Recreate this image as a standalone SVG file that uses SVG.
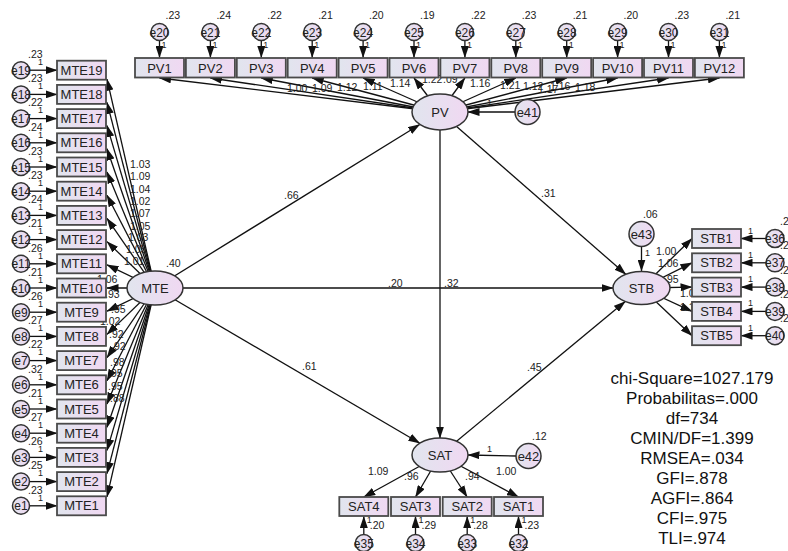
<svg xmlns="http://www.w3.org/2000/svg" width="788" height="551" viewBox="0 0 788 551">
  <defs>
    <linearGradient id="g" x1="0" y1="0" x2="1" y2="0">
      <stop offset="0" stop-color="#e1e5ee"/>
      <stop offset="1" stop-color="#f0d8f2"/>
    </linearGradient>
    <marker id="ah" markerWidth="12" markerHeight="8" refX="11.5" refY="4" orient="auto" markerUnits="userSpaceOnUse">
      <path d="M0,0 L12,4 L0,8 z" fill="#111"/>
    </marker>
    <style>
      .box { fill:url(#g); stroke:#4a4a4a; stroke-width:1.8; }
      .lat { fill:url(#g); stroke:#333; stroke-width:1.5; }
      .err { fill:url(#g); stroke:#333; stroke-width:1.5; }
      text { font-family:"Liberation Sans", Arial, sans-serif; fill:#222; }
      .lbl { font-size:13px; text-anchor:middle; }
      .elbl { font-size:12px; text-anchor:middle; }
      .num { font-size:10.5px; }
      .one { font-size:9px; }
      .stat { font-size:17px; text-anchor:middle; fill:#111; }
      .p { stroke:#111; stroke-width:1.3; fill:none; marker-end:url(#ah); }
    </style>
  </defs>
  <rect width="788" height="551" fill="#fff"/>

  <!-- paths -->
  <g id="connectors">
    <!-- MTE indicators -->
    <line class="p" x1="155" y1="288" x2="107" y2="79.2"/>
    <line class="p" x1="155" y1="288" x2="107" y2="102.4"/>
    <line class="p" x1="155" y1="288" x2="107" y2="125.6"/>
    <line class="p" x1="155" y1="288" x2="107" y2="148.8"/>
    <line class="p" x1="155" y1="288" x2="107" y2="172"/>
    <line class="p" x1="155" y1="288" x2="107" y2="195.2"/>
    <line class="p" x1="155" y1="288" x2="107" y2="218.4"/>
    <line class="p" x1="155" y1="288" x2="107" y2="241.6"/>
    <line class="p" x1="155" y1="288" x2="107" y2="264.8"/>
    <line class="p" x1="155" y1="288" x2="107" y2="288"/>
    <line class="p" x1="155" y1="288" x2="107" y2="311.2"/>
    <line class="p" x1="155" y1="288" x2="107" y2="334.4"/>
    <line class="p" x1="155" y1="288" x2="107" y2="357.6"/>
    <line class="p" x1="155" y1="288" x2="107" y2="380.8"/>
    <line class="p" x1="155" y1="288" x2="107" y2="404"/>
    <line class="p" x1="155" y1="288" x2="107" y2="427.2"/>
    <line class="p" x1="155" y1="288" x2="107" y2="450.4"/>
    <line class="p" x1="155" y1="288" x2="107" y2="473.6"/>
    <line class="p" x1="155" y1="288" x2="107" y2="496.8"/>
    <!-- MTE errors -->
    <line class="p" x1="29.5" y1="70.2" x2="57" y2="70.2"/>
    <line class="p" x1="29.5" y1="94.4" x2="57" y2="94.4"/>
    <line class="p" x1="29.5" y1="118.6" x2="57" y2="118.6"/>
    <line class="p" x1="29.5" y1="142.8" x2="57" y2="142.8"/>
    <line class="p" x1="29.5" y1="167" x2="57" y2="167"/>
    <line class="p" x1="29.5" y1="191.2" x2="57" y2="191.2"/>
    <line class="p" x1="29.5" y1="215.4" x2="57" y2="215.4"/>
    <line class="p" x1="29.5" y1="239.6" x2="57" y2="239.6"/>
    <line class="p" x1="29.5" y1="263.8" x2="57" y2="263.8"/>
    <line class="p" x1="29.5" y1="288" x2="57" y2="288"/>
    <line class="p" x1="29.5" y1="312.2" x2="57" y2="312.2"/>
    <line class="p" x1="29.5" y1="336.4" x2="57" y2="336.4"/>
    <line class="p" x1="29.5" y1="360.6" x2="57" y2="360.6"/>
    <line class="p" x1="29.5" y1="384.8" x2="57" y2="384.8"/>
    <line class="p" x1="29.5" y1="409" x2="57" y2="409"/>
    <line class="p" x1="29.5" y1="433.2" x2="57" y2="433.2"/>
    <line class="p" x1="29.5" y1="457.4" x2="57" y2="457.4"/>
    <line class="p" x1="29.5" y1="481.6" x2="57" y2="481.6"/>
    <line class="p" x1="29.5" y1="505.8" x2="57" y2="505.8"/>
    <!-- PV indicators -->
    <line class="p" x1="440" y1="112" x2="159.5" y2="78"/>
    <line class="p" x1="440" y1="112" x2="210.4" y2="78"/>
    <line class="p" x1="440" y1="112" x2="261.3" y2="78"/>
    <line class="p" x1="440" y1="112" x2="312.2" y2="78"/>
    <line class="p" x1="440" y1="112" x2="363.1" y2="78"/>
    <line class="p" x1="440" y1="112" x2="414" y2="78"/>
    <line class="p" x1="440" y1="112" x2="464.9" y2="78"/>
    <line class="p" x1="440" y1="112" x2="515.8" y2="78"/>
    <line class="p" x1="440" y1="112" x2="566.7" y2="78"/>
    <line class="p" x1="440" y1="112" x2="617.6" y2="78"/>
    <line class="p" x1="440" y1="112" x2="668.5" y2="78"/>
    <line class="p" x1="440" y1="112" x2="719.4" y2="78"/>
    <!-- PV errors -->
    <line class="p" x1="159.5" y1="40.5" x2="159.5" y2="57.5"/>
    <line class="p" x1="210.4" y1="40.5" x2="210.4" y2="57.5"/>
    <line class="p" x1="261.3" y1="40.5" x2="261.3" y2="57.5"/>
    <line class="p" x1="312.2" y1="40.5" x2="312.2" y2="57.5"/>
    <line class="p" x1="363.1" y1="40.5" x2="363.1" y2="57.5"/>
    <line class="p" x1="414" y1="40.5" x2="414" y2="57.5"/>
    <line class="p" x1="464.9" y1="40.5" x2="464.9" y2="57.5"/>
    <line class="p" x1="515.8" y1="40.5" x2="515.8" y2="57.5"/>
    <line class="p" x1="566.7" y1="40.5" x2="566.7" y2="57.5"/>
    <line class="p" x1="617.6" y1="40.5" x2="617.6" y2="57.5"/>
    <line class="p" x1="668.5" y1="40.5" x2="668.5" y2="57.5"/>
    <line class="p" x1="719.4" y1="40.5" x2="719.4" y2="57.5"/>
    <line class="p" x1="515" y1="112" x2="468" y2="112"/>
    <!-- structural paths -->
    <line class="p" x1="155" y1="288" x2="419.8" y2="124.5"/>
    <line class="p" x1="155" y1="288" x2="613" y2="288"/>
    <line class="p" x1="155" y1="288" x2="419.9" y2="443.2"/>
    <line class="p" x1="440" y1="112" x2="625.8" y2="274.3"/>
    <line class="p" x1="440" y1="112" x2="440" y2="438"/>
    <line class="p" x1="440" y1="455" x2="625.2" y2="301.5"/>
    <!-- STB -->
    <line class="p" x1="641.5" y1="246.5" x2="641.5" y2="271"/>
    <line class="p" x1="641.5" y1="288" x2="692" y2="238.5"/>
    <line class="p" x1="641.5" y1="288" x2="692" y2="262.8"/>
    <line class="p" x1="641.5" y1="288" x2="692" y2="287.1"/>
    <line class="p" x1="641.5" y1="288" x2="692" y2="311.4"/>
    <line class="p" x1="641.5" y1="288" x2="692" y2="335.7"/>
    <line class="p" x1="766" y1="238.5" x2="741" y2="238.5"/>
    <line class="p" x1="766" y1="262.8" x2="741" y2="262.8"/>
    <line class="p" x1="766" y1="287.1" x2="741" y2="287.1"/>
    <line class="p" x1="766" y1="311.4" x2="741" y2="311.4"/>
    <line class="p" x1="766" y1="335.7" x2="741" y2="335.7"/>
    <!-- SAT -->
    <line class="p" x1="440" y1="455" x2="363.8" y2="497"/>
    <line class="p" x1="440" y1="455" x2="415.5" y2="497"/>
    <line class="p" x1="440" y1="455" x2="467.2" y2="497"/>
    <line class="p" x1="440" y1="455" x2="518.5" y2="497"/>
    <line class="p" x1="516" y1="456" x2="468" y2="455"/>
    <line class="p" x1="363.8" y1="534.5" x2="363.8" y2="516.5"/>
    <line class="p" x1="415.5" y1="534.5" x2="415.5" y2="516.5"/>
    <line class="p" x1="467.2" y1="534.5" x2="467.2" y2="516.5"/>
    <line class="p" x1="518.5" y1="534.5" x2="518.5" y2="516.5"/>
  </g>

  <!-- path estimates -->
  <g id="estimates" class="num">
    <text x="284" y="199">.66</text>
    <text x="541" y="197">.31</text>
    <text x="388" y="287">.20</text>
    <text x="444" y="287">.32</text>
    <text x="302" y="370">.61</text>
    <text x="527" y="371">.45</text>
    <!-- PV loadings -->
    <text x="287" y="91.5">1.00</text>
    <text x="312" y="91.5">1.09</text>
    <text x="337" y="91">1.12</text>
    <text x="363" y="90">1.11</text>
    <text x="390" y="87">1.14</text>
    <text x="422" y="83">1.22</text>
    <text x="443" y="83">.09</text>
    <text x="470" y="87">1.16</text>
    <text x="500" y="89">1.21</text>
    <text x="523" y="90">1.12</text>
    <text x="538" y="93">1.17</text>
    <text x="550" y="90">1.16</text>
    <text x="575" y="91">1.18</text>
    <!-- MTE loadings -->
    <text x="130" y="167.5">1.03</text>
    <text x="130" y="179.5">1.09</text>
    <text x="130" y="192.5">1.04</text>
    <text x="130" y="204.5">1.02</text>
    <text x="130" y="216.5">1.07</text>
    <text x="130" y="229.5">1.05</text>
    <text x="128" y="241">1.03</text>
    <text x="126" y="253">1.05</text>
    <text x="124" y="265">1.01</text>
    <text x="97" y="283">1.06</text>
    <text x="105" y="298">.93</text>
    <text x="111" y="313">.95</text>
    <text x="100" y="325">1.02</text>
    <text x="109" y="338">.92</text>
    <text x="111" y="350">.92</text>
    <text x="110" y="366">.98</text>
    <text x="108" y="377">.95</text>
    <text x="108" y="390">.95</text>
    <text x="110" y="402">.88</text>
    <!-- STB loadings -->
    <text x="656" y="255">1.00</text>
    <text x="658" y="267">1.06</text>
    <text x="664" y="283">.95</text>
    <text x="680" y="297">1.07</text>
    <text x="680" y="311">1.15</text>
    <!-- SAT loadings -->
    <text x="368" y="475">1.09</text>
    <text x="404" y="480">.96</text>
    <text x="465" y="480">.94</text>
    <text x="496" y="475">1.00</text>
  </g>

  <!-- latent variables -->
  <g id="MTE">
    <ellipse class="lat" cx="155" cy="288" rx="28" ry="17"/>
    <text class="lbl" x="155" y="292.5">MTE</text>
    <text class="num" x="166" y="267">.40</text>
  </g>
  <g id="PV">
    <ellipse class="lat" cx="440" cy="112" rx="28" ry="18"/>
    <text class="lbl" x="440" y="116.5">PV</text>
  </g>
  <g id="STB">
    <ellipse class="lat" cx="641.5" cy="288" rx="28.5" ry="16.5"/>
    <text class="lbl" x="641.5" y="292.5">STB</text>
  </g>
  <g id="SAT">
    <ellipse class="lat" cx="440" cy="455" rx="28" ry="17"/>
    <text class="lbl" x="440" y="459.5">SAT</text>
  </g>

  <!-- disturbances -->
  <g id="e41">
    <circle class="err" cx="527.5" cy="112" r="12.5"/>
    <text class="lbl" x="527.5" y="116.5">e41</text>
    <text class="one" x="487" y="106">1</text>
  </g>
  <g id="e42">
    <circle class="err" cx="528.5" cy="456" r="12.5"/>
    <text class="lbl" x="528.5" y="460.5">e42</text>
    <text class="one" x="487" y="452">1</text>
    <text class="num" x="532" y="440">.12</text>
  </g>
  <g id="e43">
    <circle class="err" cx="641.5" cy="234" r="12.5"/>
    <text class="lbl" x="641.5" y="238.5">e43</text>
    <text class="one" x="645" y="256">1</text>
    <text class="num" x="643" y="218">.06</text>
  </g>

  <!-- PV indicators -->
  <g id="PV1"><rect class="box" x="135" y="58" width="49" height="19.5"/><text class="lbl" x="159.5" y="72.5">PV1</text></g>
  <g id="PV2"><rect class="box" x="185.9" y="58" width="49" height="19.5"/><text class="lbl" x="210.4" y="72.5">PV2</text></g>
  <g id="PV3"><rect class="box" x="236.8" y="58" width="49" height="19.5"/><text class="lbl" x="261.3" y="72.5">PV3</text></g>
  <g id="PV4"><rect class="box" x="287.7" y="58" width="49" height="19.5"/><text class="lbl" x="312.2" y="72.5">PV4</text></g>
  <g id="PV5"><rect class="box" x="338.6" y="58" width="49" height="19.5"/><text class="lbl" x="363.1" y="72.5">PV5</text></g>
  <g id="PV6"><rect class="box" x="389.5" y="58" width="49" height="19.5"/><text class="lbl" x="414" y="72.5">PV6</text></g>
  <g id="PV7"><rect class="box" x="440.4" y="58" width="49" height="19.5"/><text class="lbl" x="464.9" y="72.5">PV7</text></g>
  <g id="PV8"><rect class="box" x="491.3" y="58" width="49" height="19.5"/><text class="lbl" x="515.8" y="72.5">PV8</text></g>
  <g id="PV9"><rect class="box" x="542.2" y="58" width="49" height="19.5"/><text class="lbl" x="566.7" y="72.5">PV9</text></g>
  <g id="PV10"><rect class="box" x="593.1" y="58" width="49" height="19.5"/><text class="lbl" x="617.6" y="72.5">PV10</text></g>
  <g id="PV11"><rect class="box" x="644" y="58" width="49" height="19.5"/><text class="lbl" x="668.5" y="72.5">PV11</text></g>
  <g id="PV12"><rect class="box" x="694.9" y="58" width="49" height="19.5"/><text class="lbl" x="719.4" y="72.5">PV12</text></g>

  <!-- PV error terms -->
  <g id="e20"><circle class="err" cx="159.5" cy="32" r="8.5"/><text class="elbl" x="159.5" y="36.5">e20</text><text class="one" x="161.5" y="48">1</text><text class="num" x="165.5" y="19">.23</text></g>
  <g id="e21"><circle class="err" cx="210.4" cy="32" r="8.5"/><text class="elbl" x="210.4" y="36.5">e21</text><text class="one" x="212.4" y="48">1</text><text class="num" x="216.4" y="19">.24</text></g>
  <g id="e22"><circle class="err" cx="261.3" cy="32" r="8.5"/><text class="elbl" x="261.3" y="36.5">e22</text><text class="one" x="263.3" y="48">1</text><text class="num" x="267.3" y="19">.22</text></g>
  <g id="e23"><circle class="err" cx="312.2" cy="32" r="8.5"/><text class="elbl" x="312.2" y="36.5">e23</text><text class="one" x="314.2" y="48">1</text><text class="num" x="318.2" y="19">.21</text></g>
  <g id="e24"><circle class="err" cx="363.1" cy="32" r="8.5"/><text class="elbl" x="363.1" y="36.5">e24</text><text class="one" x="365.1" y="48">1</text><text class="num" x="369.1" y="19">.20</text></g>
  <g id="e25"><circle class="err" cx="414" cy="32" r="8.5"/><text class="elbl" x="414" y="36.5">e25</text><text class="one" x="416" y="48">1</text><text class="num" x="420" y="19">.19</text></g>
  <g id="e26"><circle class="err" cx="464.9" cy="32" r="8.5"/><text class="elbl" x="464.9" y="36.5">e26</text><text class="one" x="466.9" y="48">1</text><text class="num" x="470.9" y="19">.22</text></g>
  <g id="e27"><circle class="err" cx="515.8" cy="32" r="8.5"/><text class="elbl" x="515.8" y="36.5">e27</text><text class="one" x="517.8" y="48">1</text><text class="num" x="521.8" y="19">.23</text></g>
  <g id="e28"><circle class="err" cx="566.7" cy="32" r="8.5"/><text class="elbl" x="566.7" y="36.5">e28</text><text class="one" x="568.7" y="48">1</text><text class="num" x="572.7" y="19">.21</text></g>
  <g id="e29"><circle class="err" cx="617.6" cy="32" r="8.5"/><text class="elbl" x="617.6" y="36.5">e29</text><text class="one" x="619.6" y="48">1</text><text class="num" x="623.6" y="19">.20</text></g>
  <g id="e30"><circle class="err" cx="668.5" cy="32" r="8.5"/><text class="elbl" x="668.5" y="36.5">e30</text><text class="one" x="670.5" y="48">1</text><text class="num" x="674.5" y="19">.23</text></g>
  <g id="e31"><circle class="err" cx="719.4" cy="32" r="8.5"/><text class="elbl" x="719.4" y="36.5">e31</text><text class="one" x="721.4" y="48">1</text><text class="num" x="725.4" y="19">.21</text></g>

  <!-- MTE indicators -->
  <g id="MTE19"><rect class="box" x="57" y="60.7" width="49" height="19"/><text class="lbl" x="81.5" y="74.7">MTE19</text></g>
  <g id="MTE18"><rect class="box" x="57" y="84.9" width="49" height="19"/><text class="lbl" x="81.5" y="98.9">MTE18</text></g>
  <g id="MTE17"><rect class="box" x="57" y="109.1" width="49" height="19"/><text class="lbl" x="81.5" y="123.1">MTE17</text></g>
  <g id="MTE16"><rect class="box" x="57" y="133.3" width="49" height="19"/><text class="lbl" x="81.5" y="147.3">MTE16</text></g>
  <g id="MTE15"><rect class="box" x="57" y="157.5" width="49" height="19"/><text class="lbl" x="81.5" y="171.5">MTE15</text></g>
  <g id="MTE14"><rect class="box" x="57" y="181.7" width="49" height="19"/><text class="lbl" x="81.5" y="195.7">MTE14</text></g>
  <g id="MTE13"><rect class="box" x="57" y="205.9" width="49" height="19"/><text class="lbl" x="81.5" y="219.9">MTE13</text></g>
  <g id="MTE12"><rect class="box" x="57" y="230.1" width="49" height="19"/><text class="lbl" x="81.5" y="244.1">MTE12</text></g>
  <g id="MTE11"><rect class="box" x="57" y="254.3" width="49" height="19"/><text class="lbl" x="81.5" y="268.3">MTE11</text></g>
  <g id="MTE10"><rect class="box" x="57" y="278.5" width="49" height="19"/><text class="lbl" x="81.5" y="292.5">MTE10</text></g>
  <g id="MTE9"><rect class="box" x="57" y="302.7" width="49" height="19"/><text class="lbl" x="81.5" y="316.7">MTE9</text></g>
  <g id="MTE8"><rect class="box" x="57" y="326.9" width="49" height="19"/><text class="lbl" x="81.5" y="340.9">MTE8</text></g>
  <g id="MTE7"><rect class="box" x="57" y="351.1" width="49" height="19"/><text class="lbl" x="81.5" y="365.1">MTE7</text></g>
  <g id="MTE6"><rect class="box" x="57" y="375.3" width="49" height="19"/><text class="lbl" x="81.5" y="389.3">MTE6</text></g>
  <g id="MTE5"><rect class="box" x="57" y="399.5" width="49" height="19"/><text class="lbl" x="81.5" y="413.5">MTE5</text></g>
  <g id="MTE4"><rect class="box" x="57" y="423.7" width="49" height="19"/><text class="lbl" x="81.5" y="437.7">MTE4</text></g>
  <g id="MTE3"><rect class="box" x="57" y="447.9" width="49" height="19"/><text class="lbl" x="81.5" y="461.9">MTE3</text></g>
  <g id="MTE2"><rect class="box" x="57" y="472.1" width="49" height="19"/><text class="lbl" x="81.5" y="486.1">MTE2</text></g>
  <g id="MTE1"><rect class="box" x="57" y="496.3" width="49" height="19"/><text class="lbl" x="81.5" y="510.3">MTE1</text></g>

  <!-- MTE error terms -->
  <g id="e19"><circle class="err" cx="21" cy="70.2" r="8.5"/><text class="elbl" x="21" y="74.7">e19</text><text class="one" x="38" y="65">1</text><text class="num" x="28" y="58">.23</text></g>
  <g id="e18"><circle class="err" cx="21" cy="94.4" r="8.5"/><text class="elbl" x="21" y="98.9">e18</text><text class="one" x="38" y="89.2">1</text><text class="num" x="28" y="82.2">.23</text></g>
  <g id="e17"><circle class="err" cx="21" cy="118.6" r="8.5"/><text class="elbl" x="21" y="123.1">e17</text><text class="one" x="38" y="113.4">1</text><text class="num" x="28" y="106.4">.22</text></g>
  <g id="e16"><circle class="err" cx="21" cy="142.8" r="8.5"/><text class="elbl" x="21" y="147.3">e16</text><text class="one" x="38" y="137.6">1</text><text class="num" x="28" y="130.6">.24</text></g>
  <g id="e15"><circle class="err" cx="21" cy="167" r="8.5"/><text class="elbl" x="21" y="171.5">e15</text><text class="one" x="38" y="161.8">1</text><text class="num" x="28" y="154.8">.23</text></g>
  <g id="e14"><circle class="err" cx="21" cy="191.2" r="8.5"/><text class="elbl" x="21" y="195.7">e14</text><text class="one" x="38" y="186">1</text><text class="num" x="28" y="179">.23</text></g>
  <g id="e13"><circle class="err" cx="21" cy="215.4" r="8.5"/><text class="elbl" x="21" y="219.9">e13</text><text class="one" x="38" y="210.2">1</text><text class="num" x="28" y="203.2">.24</text></g>
  <g id="e12"><circle class="err" cx="21" cy="239.6" r="8.5"/><text class="elbl" x="21" y="244.1">e12</text><text class="one" x="38" y="234.4">1</text><text class="num" x="28" y="227.4">.21</text></g>
  <g id="e11"><circle class="err" cx="21" cy="263.8" r="8.5"/><text class="elbl" x="21" y="268.3">e11</text><text class="one" x="38" y="258.6">1</text><text class="num" x="28" y="251.6">.26</text></g>
  <g id="e10"><circle class="err" cx="21" cy="288" r="8.5"/><text class="elbl" x="21" y="292.5">e10</text><text class="one" x="38" y="282.8">1</text><text class="num" x="28" y="275.8">.21</text></g>
  <g id="e9"><circle class="err" cx="21" cy="312.2" r="8.5"/><text class="elbl" x="21" y="316.7">e9</text><text class="one" x="38" y="307">1</text><text class="num" x="28" y="300">.26</text></g>
  <g id="e8"><circle class="err" cx="21" cy="336.4" r="8.5"/><text class="elbl" x="21" y="340.9">e8</text><text class="one" x="38" y="331.2">1</text><text class="num" x="28" y="324.2">.27</text></g>
  <g id="e7"><circle class="err" cx="21" cy="360.6" r="8.5"/><text class="elbl" x="21" y="365.1">e7</text><text class="one" x="38" y="355.4">1</text><text class="num" x="28" y="348.4">.22</text></g>
  <g id="e6"><circle class="err" cx="21" cy="384.8" r="8.5"/><text class="elbl" x="21" y="389.3">e6</text><text class="one" x="38" y="379.6">1</text><text class="num" x="28" y="372.6">.32</text></g>
  <g id="e5"><circle class="err" cx="21" cy="409" r="8.5"/><text class="elbl" x="21" y="413.5">e5</text><text class="one" x="38" y="403.8">1</text><text class="num" x="28" y="396.8">.21</text></g>
  <g id="e4"><circle class="err" cx="21" cy="433.2" r="8.5"/><text class="elbl" x="21" y="437.7">e4</text><text class="one" x="38" y="428">1</text><text class="num" x="28" y="421">.27</text></g>
  <g id="e3"><circle class="err" cx="21" cy="457.4" r="8.5"/><text class="elbl" x="21" y="461.9">e3</text><text class="one" x="38" y="452.2">1</text><text class="num" x="28" y="445.2">.26</text></g>
  <g id="e2"><circle class="err" cx="21" cy="481.6" r="8.5"/><text class="elbl" x="21" y="486.1">e2</text><text class="one" x="38" y="476.4">1</text><text class="num" x="28" y="469.4">.25</text></g>
  <g id="e1"><circle class="err" cx="21" cy="505.8" r="8.5"/><text class="elbl" x="21" y="510.3">e1</text><text class="one" x="38" y="500.6">1</text><text class="num" x="28" y="493.6">.23</text></g>

  <!-- STB indicators -->
  <g id="STB1"><rect class="box" x="692" y="229" width="49" height="19"/><text class="lbl" x="716.5" y="243">STB1</text></g>
  <g id="STB2"><rect class="box" x="692" y="253.3" width="49" height="19"/><text class="lbl" x="716.5" y="267.3">STB2</text></g>
  <g id="STB3"><rect class="box" x="692" y="277.6" width="49" height="19"/><text class="lbl" x="716.5" y="291.6">STB3</text></g>
  <g id="STB4"><rect class="box" x="692" y="301.9" width="49" height="19"/><text class="lbl" x="716.5" y="315.9">STB4</text></g>
  <g id="STB5"><rect class="box" x="692" y="326.2" width="49" height="19"/><text class="lbl" x="716.5" y="340.2">STB5</text></g>

  <!-- STB error terms -->
  <g id="e36"><circle class="err" cx="775" cy="238.5" r="9"/><text class="elbl" x="775" y="243">e36</text><text class="one" x="748" y="233.5">1</text><text class="num" x="780" y="225">.22</text></g>
  <g id="e37"><circle class="err" cx="775" cy="262.8" r="9"/><text class="elbl" x="775" y="267.3">e37</text><text class="one" x="748" y="257.8">1</text><text class="num" x="780" y="249.3">.22</text></g>
  <g id="e38"><circle class="err" cx="775" cy="287.1" r="9"/><text class="elbl" x="775" y="291.6">e38</text><text class="one" x="748" y="282.1">1</text><text class="num" x="780" y="273.6">.22</text></g>
  <g id="e39"><circle class="err" cx="775" cy="311.4" r="9"/><text class="elbl" x="775" y="315.9">e39</text><text class="one" x="748" y="306.4">1</text><text class="num" x="780" y="297.9">.22</text></g>
  <g id="e40"><circle class="err" cx="775" cy="335.7" r="9"/><text class="elbl" x="775" y="340.2">e40</text><text class="one" x="748" y="330.7">1</text><text class="num" x="780" y="322.2">.22</text></g>

  <!-- SAT indicators -->
  <g id="SAT4"><rect class="box" x="339.3" y="497" width="49" height="19"/><text class="lbl" x="363.8" y="511">SAT4</text></g>
  <g id="SAT3"><rect class="box" x="391" y="497" width="49" height="19"/><text class="lbl" x="415.5" y="511">SAT3</text></g>
  <g id="SAT2"><rect class="box" x="442.7" y="497" width="49" height="19"/><text class="lbl" x="467.2" y="511">SAT2</text></g>
  <g id="SAT1"><rect class="box" x="494" y="497" width="49" height="19"/><text class="lbl" x="518.5" y="511">SAT1</text></g>

  <!-- SAT error terms -->
  <g id="e35"><circle class="err" cx="363.8" cy="543" r="8.5"/><text class="elbl" x="363.8" y="547.5">e35</text><text class="one" x="366.8" y="523">1</text><text class="num" x="369.8" y="529">.20</text></g>
  <g id="e34"><circle class="err" cx="415.5" cy="543" r="8.5"/><text class="elbl" x="415.5" y="547.5">e34</text><text class="one" x="418.5" y="523">1</text><text class="num" x="421.5" y="529">.29</text></g>
  <g id="e33"><circle class="err" cx="467.2" cy="543" r="8.5"/><text class="elbl" x="467.2" y="547.5">e33</text><text class="one" x="470.2" y="523">1</text><text class="num" x="473.2" y="529">.28</text></g>
  <g id="e32"><circle class="err" cx="518.5" cy="543" r="8.5"/><text class="elbl" x="518.5" y="547.5">e32</text><text class="one" x="521.5" y="523">1</text><text class="num" x="524.5" y="529">.23</text></g>

  <!-- fit indices -->
  <g id="fit">
    <text class="stat" x="692" y="384">chi-Square=1027.179</text>
    <text class="stat" x="692" y="404">Probabilitas=.000</text>
    <text class="stat" x="692" y="424">df=734</text>
    <text class="stat" x="692" y="444">CMIN/DF=1.399</text>
    <text class="stat" x="692" y="464">RMSEA=.034</text>
    <text class="stat" x="692" y="484">GFI=.878</text>
    <text class="stat" x="692" y="504">AGFI=.864</text>
    <text class="stat" x="692" y="524">CFI=.975</text>
    <text class="stat" x="692" y="544">TLI=.974</text>
  </g>
</svg>
